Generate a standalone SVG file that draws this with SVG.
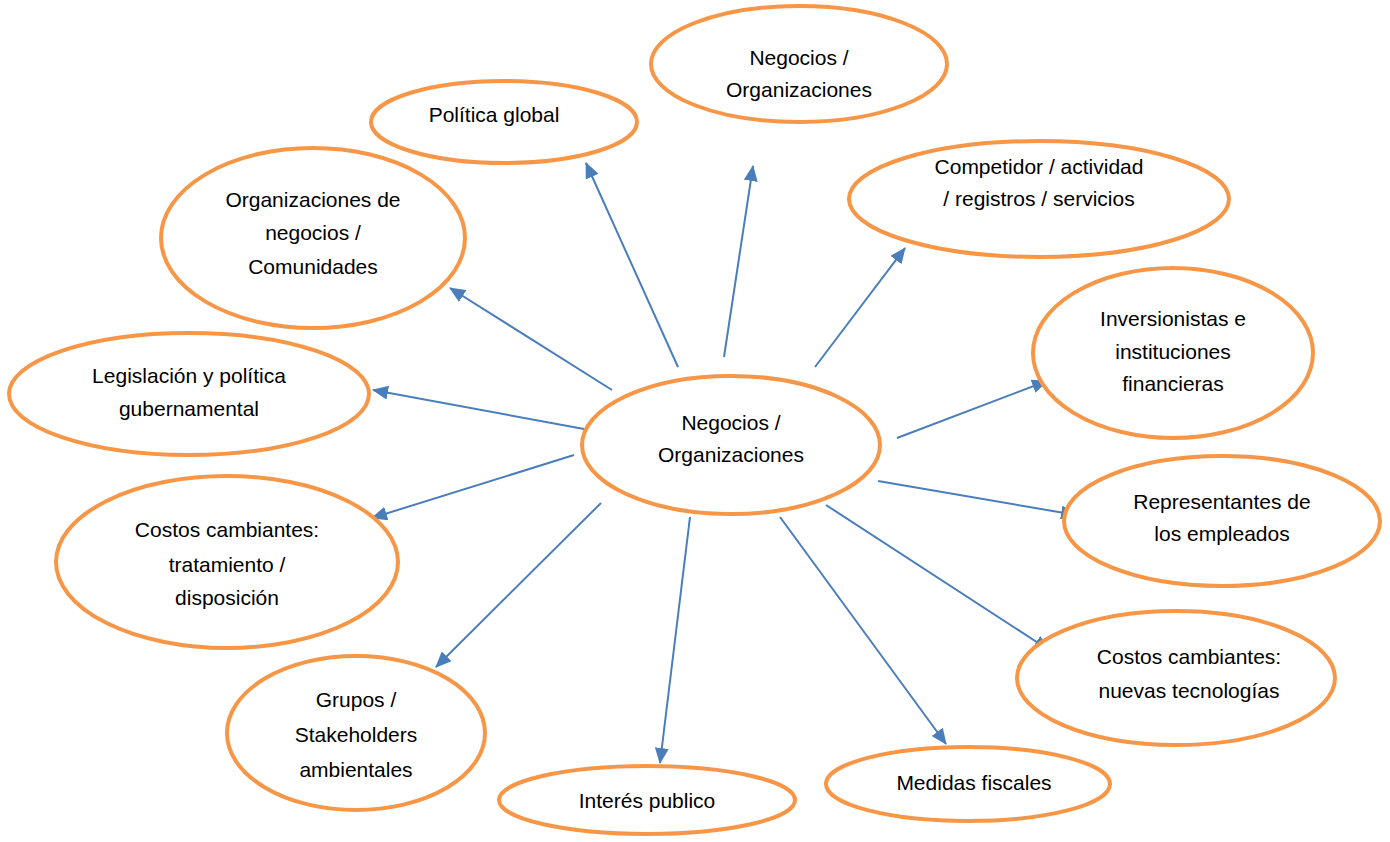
<svg xmlns="http://www.w3.org/2000/svg" width="1390" height="842" viewBox="0 0 1390 842">
<style>
.n ellipse{fill:#fff;stroke:#F79646;stroke-width:4}
.n text{font-family:"Liberation Sans",Arial,sans-serif;font-size:21px;fill:#000;text-anchor:middle}
.c line{stroke:#4A7EBB;stroke-width:2;marker-end:url(#ah)}
</style>
<defs>
<marker id="ah" markerUnits="userSpaceOnUse" markerWidth="16" markerHeight="14" refX="15" refY="7" orient="auto">
<path d="M0,0 L16,7 L0,14 Z" fill="#4A7EBB"/>
</marker>
</defs>
<rect width="1390" height="842" fill="#fff"/>
<g id="connectors" class="c">
<line x1="678" y1="367" x2="586" y2="163"/>
<line x1="724" y1="357" x2="753" y2="166"/>
<line x1="815" y1="367" x2="905" y2="248"/>
<line x1="612" y1="390" x2="450" y2="288"/>
<line x1="584" y1="429" x2="373" y2="390"/>
<line x1="897" y1="438" x2="1047" y2="381"/>
<line x1="574" y1="455" x2="372" y2="518"/>
<line x1="878" y1="481" x2="1076" y2="515"/>
<line x1="601" y1="503" x2="436" y2="667"/>
<line x1="690" y1="517" x2="660" y2="763"/>
<line x1="780" y1="517" x2="946" y2="744"/>
<line x1="826" y1="505" x2="1049" y2="650"/>
</g>
<g id="center" class="n"><ellipse cx="731" cy="445" rx="149" ry="69"/><text x="731" y="430">Negocios /</text><text x="731" y="462">Organizaciones</text></g>
<g id="top" class="n"><ellipse cx="799" cy="64" rx="148" ry="58"/><text x="799" y="65">Negocios /</text><text x="799" y="97">Organizaciones</text></g>
<g id="politica" class="n"><ellipse cx="504" cy="122" rx="133" ry="41"/><text x="494" y="122">Política global</text></g>
<g id="competidor" class="n"><ellipse cx="1039" cy="199" rx="190" ry="58"/><text x="1039" y="174">Competidor / actividad</text><text x="1039" y="206">/ registros / servicios</text></g>
<g id="orgneg" class="n"><ellipse cx="313" cy="238" rx="152" ry="90"/><text x="313" y="207">Organizaciones de</text><text x="313" y="240">negocios /</text><text x="313" y="274">Comunidades</text></g>
<g id="inversionistas" class="n"><ellipse cx="1173" cy="353" rx="140" ry="85"/><text x="1173" y="326">Inversionistas e</text><text x="1173" y="359">instituciones</text><text x="1173" y="391">financieras</text></g>
<g id="legislacion" class="n"><ellipse cx="189" cy="394" rx="180" ry="61"/><text x="189" y="383">Legislación y política</text><text x="189" y="416">gubernamental</text></g>
<g id="representantes" class="n"><ellipse cx="1222" cy="521" rx="158" ry="65"/><text x="1222" y="509">Representantes de</text><text x="1222" y="541">los empleados</text></g>
<g id="costos1" class="n"><ellipse cx="227" cy="562" rx="171" ry="86"/><text x="227" y="537">Costos cambiantes:</text><text x="227" y="572">tratamiento /</text><text x="227" y="605">disposición</text></g>
<g id="costos2" class="n"><ellipse cx="1176" cy="678" rx="159" ry="67"/><text x="1189" y="664">Costos cambiantes:</text><text x="1189" y="698">nuevas tecnologías</text></g>
<g id="grupos" class="n"><ellipse cx="356" cy="733" rx="129" ry="77"/><text x="356" y="707">Grupos /</text><text x="356" y="742">Stakeholders</text><text x="356" y="777">ambientales</text></g>
<g id="interes" class="n"><ellipse cx="647" cy="800" rx="148" ry="34"/><text x="647" y="808">Interés publico</text></g>
<g id="medidas" class="n"><ellipse cx="968" cy="784" rx="142" ry="37"/><text x="974" y="790">Medidas fiscales</text></g>
</svg>
